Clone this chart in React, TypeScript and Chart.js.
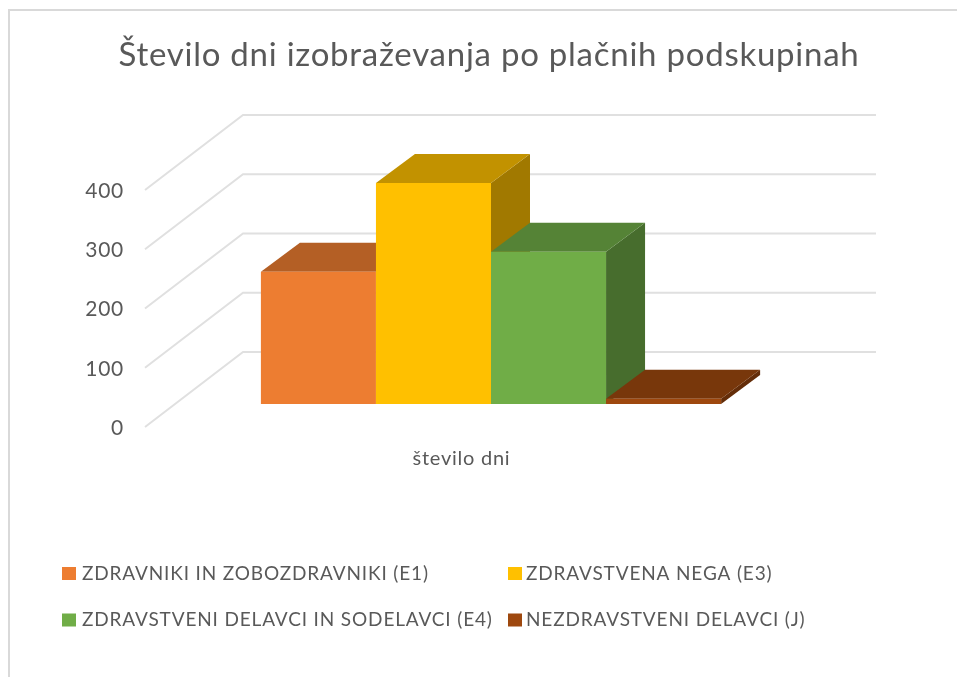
import React, { useEffect, useRef } from "react";
import { Chart, registerables } from "chart.js";

Chart.register(...registerables);

const categories = ["število dni"];
const seriesNames = [
  "ZDRAVNIKI IN ZOBOZDRAVNIKI (E1)",
  "ZDRAVSTVENA NEGA (E3)",
  "ZDRAVSTVENI DELAVCI IN SODELAVCI (E4)",
  "NEZDRAVSTVENI DELAVCI (J)",
];
const e1Values = [223];
const e3Values = [373];
const e4Values = [257];
const jValues = [9];
const seriesValues = [e1Values, e3Values, e4Values, jValues];
const seriesColors = ["#ED7D31", "#FFC000", "#70AD47", "#9E480E"];
const tickValues = [0, 100, 200, 300, 400];
const chartTitle = "Število dni izobraževanja po plačnih podskupinah";

const WALL = { dx: 98, dy: -75 };
const BAR_OFFSET = { dx: 29.5, dy: -23 };
const BAR_DEPTH = { dx: 39, dy: -29 };
const TEXT_SPACING = "0.75px";

function shade(hex: string, f: number) {
  const n = parseInt(hex.slice(1), 16);
  const c = [(n >> 16) & 255, (n >> 8) & 255, n & 255].map((v) => Math.round(v * f));
  return `rgb(${c[0]},${c[1]},${c[2]})`;
}

function poly(ctx: CanvasRenderingContext2D, pts: number[][], fill: string) {
  ctx.beginPath();
  pts.forEach((p, i) => (i ? ctx.lineTo(p[0], p[1]) : ctx.moveTo(p[0], p[1])));
  ctx.closePath();
  ctx.fillStyle = fill;
  ctx.fill();
}

const scene3d = {
  id: "scene3d",
  beforeLayout(chart: any) {
    chart.ctx.letterSpacing = TEXT_SPACING;
  },
  beforeDraw(chart: any) {
    chart.ctx.letterSpacing = TEXT_SPACING;
  },
  beforeDatasetDraw() {
    return false;
  },
  beforeDatasetsDraw(chart: any) {
    const { ctx, chartArea, scales } = chart;
    ctx.save();
    ctx.strokeStyle = "#E0E0E0";
    ctx.lineWidth = 2;
    tickValues.forEach((v) => {
      const y = scales.y.getPixelForValue(v);
      ctx.beginPath();
      ctx.moveTo(chartArea.left, y);
      ctx.lineTo(chartArea.left + WALL.dx, y + WALL.dy);
      ctx.lineTo(chartArea.right + WALL.dx, y + WALL.dy);
      ctx.stroke();
    });
    ctx.restore();
  },
  afterDatasetsDraw(chart: any) {
    const { ctx } = chart;
    ctx.save();
    ctx.translate(BAR_OFFSET.dx, BAR_OFFSET.dy);
    seriesValues.forEach((_, i) => {
      const meta = chart.getDatasetMeta(i);
      const bar = meta.data[0];
      const { x, y, base, width } = bar.getProps(["x", "y", "base", "width"], true);
      const l = x - width / 2;
      const r = x + width / 2;
      const d = BAR_DEPTH;
      poly(ctx, [[r, y], [r + d.dx, y + d.dy], [r + d.dx, base + d.dy], [r, base]], shade(seriesColors[i], 0.63));
      poly(ctx, [[l, y], [r, y], [r + d.dx, y + d.dy], [l + d.dx, y + d.dy]], shade(seriesColors[i], 0.76));
      meta.controller.draw();
    });
    ctx.restore();
  },
  afterDraw(chart: any) {
    const { ctx } = chart;
    ctx.save();
    // chart frame
    ctx.fillStyle = "#D9D9D9";
    ctx.fillRect(8, 9, 949, 2);
    ctx.fillRect(8, 9, 2, 668);
    // two-column legend
    ctx.font = "19px Lato";
    ctx.letterSpacing = "0.85px";
    ctx.textBaseline = "middle";
    ctx.textAlign = "left";
    const cols = [62, 508];
    const rows = [573.5, 620];
    seriesNames.forEach((name, i) => {
      const cx = cols[i % 2];
      const cy = rows[Math.floor(i / 2)];
      ctx.fillStyle = seriesColors[i];
      ctx.fillRect(cx, cy - 6.5, 14, 13);
      ctx.fillStyle = "#595959";
      ctx.fillText(name, cx + (i % 2 ? 18 : 20), cy);
    });
    ctx.restore();
  },
};

export default function App() {
  const ref = useRef<HTMLCanvasElement>(null);
  useEffect(() => {
    const chart = new Chart(ref.current!, {
      type: "bar",
      data: {
        labels: categories,
        datasets: seriesNames.map((label, i) => ({
          label,
          data: seriesValues[i],
          backgroundColor: seriesColors[i],
          borderWidth: 0,
          categoryPercentage: 0.727,
          barPercentage: 1,
        })),
      },
      options: {
        responsive: false,
        animation: false,
        layout: { padding: { left: 21, right: 0, top: 0, bottom: 190 } },
        plugins: {
          legend: { display: false },
          tooltip: { enabled: false },
          title: {
            display: true,
            text: chartTitle,
            color: "#595959",
            font: { family: "Lato", size: 33, weight: "normal" },
            padding: { top: 36, bottom: 114.4 },
            align: "center",
          },
        },
        scales: {
          x: {
            grid: { display: false },
            border: { display: false },
            ticks: { color: "#595959", font: { family: "Lato", size: 20 }, padding: 12 },
            afterFit: (s: any) => { s.height = 60; },
          },
          y: {
            min: 0,
            max: 400,
            grid: { display: false, drawTicks: false },
            border: { display: false },
            ticks: {
              stepSize: 100,
              color: "#595959",
              font: { family: "Lato", size: 21 },
              padding: 21,
              labelOffset: 1,
            },
            afterFit: (s: any) => { s.width = 124; },
          },
          spacer: {
            type: "linear",
            axis: "y",
            position: "right",
            min: 0,
            max: 400,
            grid: { display: false, drawTicks: false },
            border: { display: false },
            ticks: { display: false },
            afterFit: (s: any) => { s.width = 179; },
          },
        },
      } as any,
      plugins: [scene3d as any],
    });
    return () => chart.destroy();
  }, []);
  return (
    <div style={{ position: "absolute", left: 0, top: 0, width: 957, height: 677, background: "#fff", overflow: "hidden" }}>
      <canvas ref={ref} width={957} height={677} style={{ display: "block", width: 957, height: 677 }} />
    </div>
  );
}
